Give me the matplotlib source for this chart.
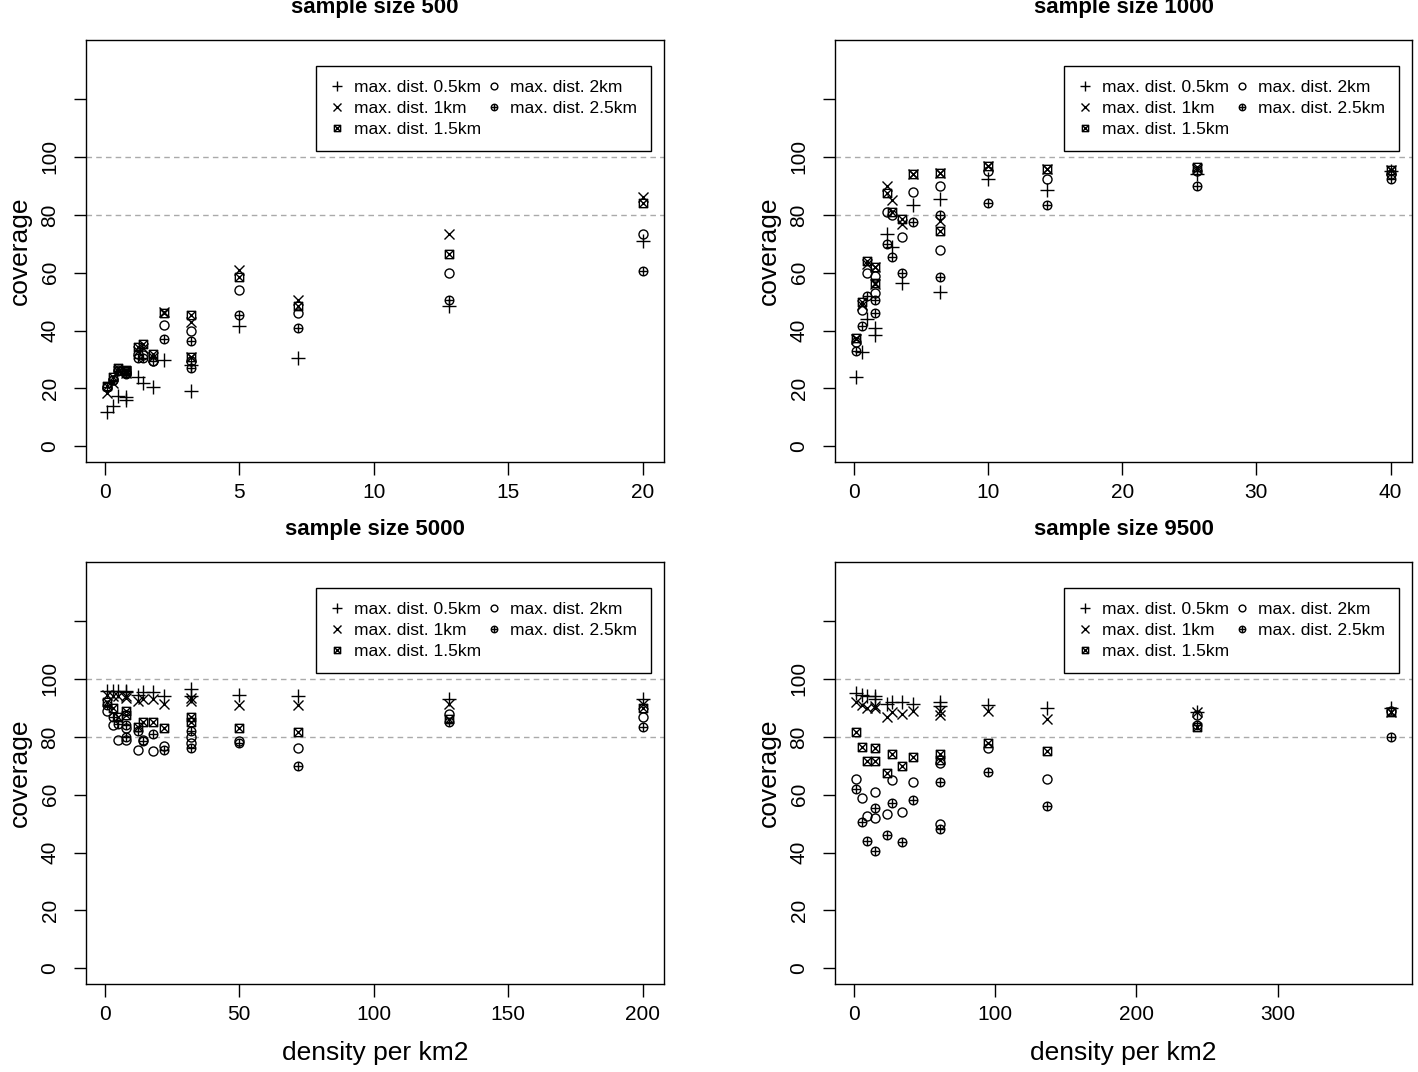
import matplotlib.pyplot as plt
from matplotlib.path import Path

plt.rcParams['font.family'] = ['Liberation Sans', 'DejaVu Sans']

# density per km2 of each scenario, one list per sample size
x500 = [0.1, 0.3, 0.5, 0.8, 0.8, 1.25, 1.44, 1.8, 2.22, 3.2, 3.2, 5, 7.2, 12.8, 20]
x1000 = [0.2, 0.6, 1, 1.6, 1.6, 2.5, 2.88, 3.6, 4.44, 6.4, 6.4, 10, 14.4, 25.6, 40]
x5000 = [1, 3, 5, 8, 8, 12.5, 14.4, 18, 22.2, 32, 32, 50, 72, 128, 200]
x9500 = [1.9, 5.7, 9.5, 15.2, 15.2, 23.8, 27.4, 34.2, 42.2, 60.8, 60.8, 95, 136.8, 243.2, 380]

# coverage (%) for max. dist. 0.5, 1, 1.5, 2, 2.5 km
cov500_05 = [12, 14, 17.5, 17, 16, 24, 22, 20.5, 30, 28, 19, 41.5, 30.5, 48.5, 71]
cov500_1 = [18.5, 22, 26, 26, 25.5, 33, 34, 31, 46.5, 43, 31, 61, 50.5, 73.5, 86]
cov500_15 = [21, 24, 27, 26.5, 26, 34.5, 35.5, 32, 46, 45.5, 31, 58.5, 48.5, 66.5, 84]
cov500_2 = [20.5, 23, 26.5, 26, 25.5, 32, 31.5, 29.5, 42, 40, 29.5, 54, 46, 60, 73.5]
cov500_25 = [20.5, 23, 26, 25.5, 25, 30.5, 30.5, 29.5, 37, 36.5, 27, 45.5, 41, 50.5, 60.5]

cov1000_05 = [24, 32.5, 44, 41, 38.5, 73.5, 69, 56.5, 83.5, 85.5, 53.5, 92.5, 88.5, 94, 95]
cov1000_1 = [37, 49, 63, 62, 56, 90, 85, 77, 94, 94.5, 78, 97, 96, 96, 95.5]
cov1000_15 = [37.5, 50, 64, 62, 56.5, 87.5, 81, 78.5, 94, 94.5, 74.5, 97, 96, 96.5, 95.5]
cov1000_2 = [36, 47, 60, 59, 53, 81, 80, 72.5, 88, 90, 68, 95, 92.5, 95, 94]
cov1000_25 = [33, 41.5, 52, 50.5, 46, 70, 65.5, 60, 77.5, 80, 58.5, 84, 83.5, 90, 92.5]

cov5000_05 = [96, 96, 96, 96, 95.5, 94.5, 95.5, 95.5, 94, 96.5, 94, 94.5, 94, 93, 93]
cov5000_1 = [94.5, 94, 94, 94, 93.5, 92.5, 93, 93, 91.5, 93.5, 92.5, 91, 91, 91.5, 91.5]
cov5000_15 = [92, 90, 87, 89, 87.5, 83.5, 85, 85, 83, 87, 85, 83, 81.5, 86, 90]
cov5000_2 = [89, 84, 79, 79, 83, 75.5, 79, 75, 77, 80, 78, 78.5, 76, 88, 87]
cov5000_25 = [91, 87, 84.5, 84, 80, 82, 78.5, 81, 75.5, 82, 76, 78, 70, 85, 83.5]

cov9500_05 = [95, 94.5, 94, 94, 93, 91.5, 92, 92, 91.5, 92, 90.5, 91, 90, 88.5, 90]
cov9500_1 = [92, 91, 90, 90, 90.5, 87, 88.5, 88, 89, 89, 87.5, 89, 86, 88.5, 88.5]
cov9500_15 = [81.5, 76.5, 71.5, 76, 71.5, 67.5, 74, 70, 73, 74, 72, 78, 75, 83.5, 88.5]
cov9500_2 = [65.5, 59, 52.5, 61, 52, 53.5, 65, 54, 64.5, 71, 50, 76, 65.5, 87.5, 89]
cov9500_25 = [62, 50.5, 44, 55.5, 40.5, 46, 57, 43.5, 58, 64.5, 48, 68, 56, 84, 80]

labels = ['max. dist. 0.5km', 'max. dist. 1km', 'max. dist. 1.5km',
          'max. dist. 2km', 'max. dist. 2.5km']

# R-like pch 7 (square with x) and pch 10 (circle with +)
M, L, C = Path.MOVETO, Path.LINETO, Path.CLOSEPOLY
sq_x = Path([(-1, -1), (1, -1), (1, 1), (-1, 1), (-1, -1),
             (-1, -1), (1, 1), (-1, 1), (1, -1)],
            [M, L, L, L, C, M, L, M, L])
circ_plus = Path.make_compound_path(
    Path.unit_circle(),
    Path([(-1, 0), (1, 0), (0, -1), (0, 1)], [M, L, M, L]))

markers = [('+', 10), ('x', 7.0), (sq_x, 6.0), ('o', 6.5), (circ_plus, 6.2)]

panels = [
    ('sample size 500', x500, [cov500_05, cov500_1, cov500_15, cov500_2, cov500_25], [0, 5, 10, 15, 20]),
    ('sample size 1000', x1000, [cov1000_05, cov1000_1, cov1000_15, cov1000_2, cov1000_25], [0, 10, 20, 30, 40]),
    ('sample size 5000', x5000, [cov5000_05, cov5000_1, cov5000_15, cov5000_2, cov5000_25], [0, 50, 100, 150, 200]),
    ('sample size 9500', x9500, [cov9500_05, cov9500_1, cov9500_15, cov9500_2, cov9500_25], [0, 100, 200, 300]),
]

W, H = 1418, 1072
fig = plt.figure(figsize=(W / 100, H / 100), dpi=100)
# panel boxes in pixels: left, top, width, height
boxes = [(86, 40, 578, 422), (835, 40, 577, 422), (86, 562, 578, 422), (835, 562, 577, 422)]

for i, (title, xs, ys, xt) in enumerate(panels):
    l, t, w, h = boxes[i]
    ax = fig.add_axes([l / W, 1 - (t + h) / H, w / W, h / H])
    for (mk, ms), y, lab in zip(markers, ys, labels):
        ax.plot(xs, y, linestyle='none', marker=mk, ms=ms, mfc='none',
                mec='black', mew=1.0, label=lab)
    ax.axhline(80, color='#aaaaaa', lw=1, ls=(0, (4, 3)), zorder=0)
    ax.axhline(100, color='#aaaaaa', lw=1, ls=(0, (4, 3)), zorder=0)
    lo, hi = min(xs), max(xs)
    ax.set_xlim(lo - 0.04 * (hi - lo), hi + 0.04 * (hi - lo))
    ax.set_ylim(-5.4, 140.4)
    ax.set_xticks(xt)
    ax.set_xticklabels([str(v) for v in xt])
    ax.set_yticks([0, 20, 40, 60, 80, 100, 120])
    ax.set_yticklabels(['0', '20', '40', '60', '80', '100', ''], rotation=90, va='center')
    ax.tick_params(direction='out', length=9, width=1, labelsize=15, pad=6)
    ax.tick_params(axis='y', pad=10)
    for s in ax.spines.values():
        s.set_linewidth(1)
    ax.set_ylabel('coverage', fontsize=19)
    ax.yaxis.set_label_coords(-0.094, 0.5)
    if i >= 2:
        ax.set_xlabel('density per km2', fontsize=19)
        ax.xaxis.set_label_coords(0.5, -0.135)
    ax.text(0.5, 1 + 32 / h, title, transform=ax.transAxes, ha='center', va='center',
            fontsize=16, fontweight='bold')
    leg = ax.legend(ncol=2, loc='upper right', bbox_to_anchor=(0.978, 0.938), borderaxespad=0,
                    fontsize=12.5, markerscale=0.75, frameon=True, fancybox=False,
                    edgecolor='black', framealpha=1, labelspacing=0.33, handlelength=0.9,
                    handletextpad=0.5, columnspacing=0.3, borderpad=0.8)
    leg.get_frame().set_linewidth(1)

plt.savefig('out.png', dpi=100)
